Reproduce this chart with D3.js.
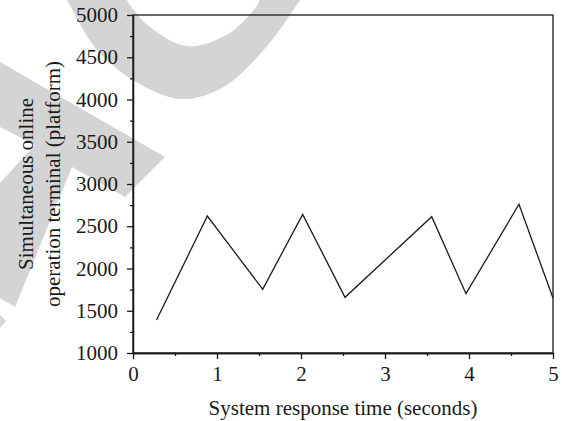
<!DOCTYPE html>
<html lang="en">
<head>
    <meta charset="UTF-8">
    <title>Simultaneous online operation terminal vs response time</title>
    <script src="https://d3js.org/d3.v7.min.js"></script>
    <style>
        body {
            margin: 0;
            padding: 0;
            background-color: #ffffff;
        }
        svg text {
            font-family: "Liberation Serif", "DejaVu Serif", serif;
            fill: #1a1a1a;
        }
    </style>
</head>
<body>
    <div id="chart"></div>
    <script>
        // data
        const responseTime = [0.28, 0.885, 1.544, 2.02, 2.524, 3.556, 3.964, 4.595, 5.0];
        const terminals = [1390, 2621, 1754, 2641, 1659, 2613, 1702, 2760, 1650];
        const xTicks = [0, 1, 2, 3, 4, 5];
        const xMinorTicks = [0.5, 1.5, 2.5, 3.5, 4.5];
        const yTicks = [1000, 1500, 2000, 2500, 3000, 3500, 4000, 4500, 5000];
        const yMinorTicks = [1250, 1750, 2250, 2750, 3250, 3750, 4250, 4750];

        const W = 562, H = 421;
        const margin = {top: 15, right: 9, bottom: 68, left: 133};
        const width = W - margin.left - margin.right;
        const height = H - margin.top - margin.bottom;

        const root = d3.select("#chart")
            .append("svg")
            .attr("width", W)
            .attr("height", H);

        // grey watermark behind the chart
        const wm = root.append("g").attr("fill", "#d4d4d4");
        const ringOuter = [[60, -12], [68, 2], [97, 50], [133, 80], [180, 99], [222, 88], [262, 52], [296, 6], [306, -12]];
        const ringInner = [[264, -12], [258, 4], [228, 34], [187, 46], [150, 27], [128, 2], [122, -12]];
        wm.append("path")
            .attr("d", d3.line().curve(d3.curveCatmullRom)(ringOuter.concat(ringInner)) + "Z");
        wm.append("path")
            .attr("d", d3.line()([[0, 62], [165, 157], [125, 197], [72, 167], [15, 307], [0, 298], [0, 183], [35, 145], [0, 127]]) + "Z");
        wm.append("path")
            .attr("d", d3.line()([[0, 315], [6, 321], [0, 328]]) + "Z");

        const svg = root.append("g")
            .attr("transform", `translate(${margin.left},${margin.top})`);

        const x = d3.scaleLinear().domain([0, 5]).range([0, width]);
        const y = d3.scaleLinear().domain([1000, 5000]).range([height, 0]);

        // frame (top and right edges)
        svg.append("rect")
            .attr("width", width)
            .attr("height", height)
            .attr("fill", "none")
            .attr("stroke", "#1a1a1a")
            .attr("stroke-width", 1.3);

        // x axis
        svg.append("g")
            .attr("transform", `translate(0,${height})`)
            .call(d3.axisBottom(x).tickValues(xTicks).tickFormat(d3.format("d"))
                .tickSize(6).tickSizeOuter(0).tickPadding(7));
        svg.append("g")
            .attr("transform", `translate(0,${height})`)
            .call(d3.axisBottom(x).tickValues(xMinorTicks).tickFormat("")
                .tickSize(3).tickSizeOuter(0));

        // y axis
        svg.append("g")
            .call(d3.axisLeft(y).tickValues(yTicks).tickFormat(d3.format("d"))
                .tickSize(6).tickSizeOuter(0).tickPadding(9));
        svg.append("g")
            .call(d3.axisLeft(y).tickValues(yMinorTicks).tickFormat("")
                .tickSize(3).tickSizeOuter(0));

        svg.selectAll(".domain, .tick line")
            .attr("stroke", "#1a1a1a")
            .attr("stroke-width", 1.3);
        svg.selectAll(".tick text")
            .style("font-size", "21px")
            .attr("fill", "#1a1a1a");

        // the series
        const line = d3.line()
            .x((d, i) => x(responseTime[i]))
            .y(d => y(d));
        svg.append("path")
            .datum(terminals)
            .attr("fill", "none")
            .attr("stroke", "#1a1a1a")
            .attr("stroke-width", 1.3)
            .attr("d", line);

        // axis titles
        root.append("text")
            .attr("x", margin.left + width / 2)
            .attr("y", 415)
            .attr("text-anchor", "middle")
            .style("font-size", "21px")
            .text("System response time (seconds)");

        const yMid = margin.top + height / 2;
        root.append("text")
            .attr("transform", `translate(33,${yMid}) rotate(-90)`)
            .attr("text-anchor", "middle")
            .style("font-size", "21px")
            .text("Simultaneous online");
        root.append("text")
            .attr("transform", `translate(60,${yMid}) rotate(-90)`)
            .attr("text-anchor", "middle")
            .style("font-size", "21px")
            .text("operation terminal (platform)");
    </script>
</body>
</html>
